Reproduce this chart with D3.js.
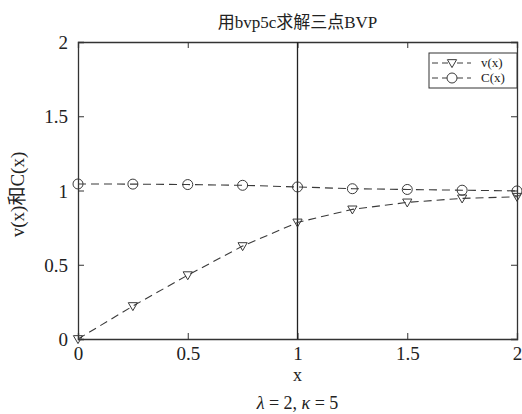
<!DOCTYPE html>
<html>
<head>
<meta charset="utf-8">
<script src="https://cdn.jsdelivr.net/npm/d3@7"></script>
<style>
  body { margin: 0; background: #fff; }
  text { font-family: "Liberation Serif", "Noto Sans CJK SC", serif; fill: #222; }
</style>
</head>
<body>
<div id="chart"></div>
<script>
// data
const xs = [0, 0.25, 0.5, 0.75, 1, 1.25, 1.5, 1.75, 2];
const vValues = [0, 0.222, 0.43, 0.626, 0.785, 0.873, 0.92, 0.947, 0.958];
const cValues = [1.044, 1.043, 1.04, 1.035, 1.024, 1.012, 1.007, 1.002, 0.997];
const xTicks = [0, 0.5, 1, 1.5, 2];
const yTicks = [0, 0.5, 1, 1.5, 2];

const width = 522, height = 414;
const margin = { top: 42, right: 5, bottom: 75, left: 78 };
const w = width - margin.left - margin.right;
const h = height - margin.top - margin.bottom;

const svg = d3.select("#chart").append("svg")
    .attr("width", width)
    .attr("height", height);
const g = svg.append("g")
    .attr("transform", `translate(${margin.left},${margin.top})`);

const x = d3.scaleLinear().domain([0, 2]).range([0, w]);
const y = d3.scaleLinear().domain([0, 2]).range([h, 0]);

const axisColor = "#333";

// axes with inward ticks, box on all sides
const axBottom = g.append("g").attr("transform", `translate(0,${h})`)
    .call(d3.axisBottom(x).tickValues(xTicks).tickSize(-6).tickPadding(8).tickFormat(d3.format("")));
const axTop = g.append("g")
    .call(d3.axisTop(x).tickValues(xTicks).tickSize(-6).tickFormat(""));
const axLeft = g.append("g")
    .call(d3.axisLeft(y).tickValues(yTicks).tickSize(-6).tickPadding(10).tickFormat(d3.format("")));
const axRight = g.append("g").attr("transform", `translate(${w},0)`)
    .call(d3.axisRight(y).tickValues(yTicks).tickSize(-6).tickFormat(""));

[axBottom, axTop, axLeft, axRight].forEach(a => {
    a.attr("font-family", null);
    a.select(".domain").attr("stroke", axisColor).attr("stroke-width", 1.3);
    a.selectAll(".tick line").attr("stroke", axisColor);
    a.selectAll("text")
        .style("font-family", "'Liberation Serif', serif")
        .style("font-size", "19px")
        .attr("fill", "#222");
});
axBottom.selectAll("text").attr("dy", "0.71em");
axLeft.selectAll("text").attr("dy", "0.35em");

// vertical line at x = 1
g.append("line")
    .attr("x1", x(1)).attr("x2", x(1))
    .attr("y1", 0).attr("y2", h)
    .attr("stroke", "#222")
    .attr("stroke-width", 1.3);

const lineColor = "#3a3a3a";
const line = d3.line().x(d => x(d[0])).y(d => y(d[1]));

const vData = xs.map((d, i) => [d, vValues[i]]);
const cData = xs.map((d, i) => [d, cValues[i]]);

const tri = d3.symbol().type({
    draw(ctx, size) {
        const r = Math.sqrt(size) / 2;
        ctx.moveTo(-r * 1.1, -r * 0.8);
        ctx.lineTo(r * 1.1, -r * 0.8);
        ctx.lineTo(0, r * 1.1);
        ctx.closePath();
    }
}).size(70);

function series(data, marker) {
    g.append("path")
        .datum(data)
        .attr("d", line)
        .attr("fill", "none")
        .attr("stroke", lineColor)
        .attr("stroke-width", 1.1)
        .attr("stroke-dasharray", "8,5");
    const m = g.selectAll(null).data(data).enter();
    if (marker === "tri") {
        m.append("path")
            .attr("d", tri)
            .attr("transform", d => `translate(${x(d[0])},${y(d[1])})`)
            .attr("fill", "none")
            .attr("stroke", lineColor)
            .attr("stroke-width", 1);
    } else {
        m.append("circle")
            .attr("cx", d => x(d[0]))
            .attr("cy", d => y(d[1]))
            .attr("r", 5)
            .attr("fill", "none")
            .attr("stroke", lineColor)
            .attr("stroke-width", 1);
    }
}
series(cData, "circle");
series(vData, "tri");

// legend
const legend = g.append("g").attr("transform", `translate(${w - 88},11)`);
legend.append("rect")
    .attr("width", 88).attr("height", 35)
    .attr("fill", "#fff")
    .attr("stroke", "#333")
    .attr("stroke-width", 1);
[["v(x)", "tri"], ["C(x)", "circle"]].forEach(([label, marker], i) => {
    const row = legend.append("g").attr("transform", `translate(0,${10 + i * 15})`);
    row.append("line")
        .attr("x1", 3).attr("x2", 42)
        .attr("stroke", lineColor)
        .attr("stroke-dasharray", "6,4,6,4,1,4");
    if (marker === "tri") {
        row.append("path").attr("d", tri).attr("transform", "translate(23,0)")
            .attr("fill", "#fff").attr("stroke", lineColor);
    } else {
        row.append("circle").attr("cx", 23).attr("r", 5)
            .attr("fill", "#fff").attr("stroke", lineColor);
    }
    row.append("text")
        .attr("x", 52).attr("dy", "0.32em")
        .style("font-size", "13px")
        .text(label);
});

// title and labels
svg.append("text")
    .attr("x", margin.left + w / 2).attr("y", 28)
    .attr("text-anchor", "middle")
    .style("font-size", "17px")
    .text("用bvp5c求解三点BVP");

svg.append("text")
    .attr("x", margin.left + w / 2).attr("y", 381)
    .attr("text-anchor", "middle")
    .style("font-size", "18px")
    .text("x");

const sub = svg.append("text")
    .attr("x", margin.left + w / 2).attr("y", 409)
    .attr("text-anchor", "middle")
    .style("font-size", "18px");
sub.append("tspan").style("font-style", "italic").text("λ");
sub.append("tspan").text(" = 2, ");
sub.append("tspan").style("font-style", "italic").text("κ");
sub.append("tspan").text(" = 5");

svg.append("text")
    .attr("transform", `translate(24,${margin.top + h / 2 + 4}) rotate(-90)`)
    .attr("text-anchor", "middle")
    .style("font-size", "19px")
    .text("v(x)和C(x)");
</script>
</body>
</html>
